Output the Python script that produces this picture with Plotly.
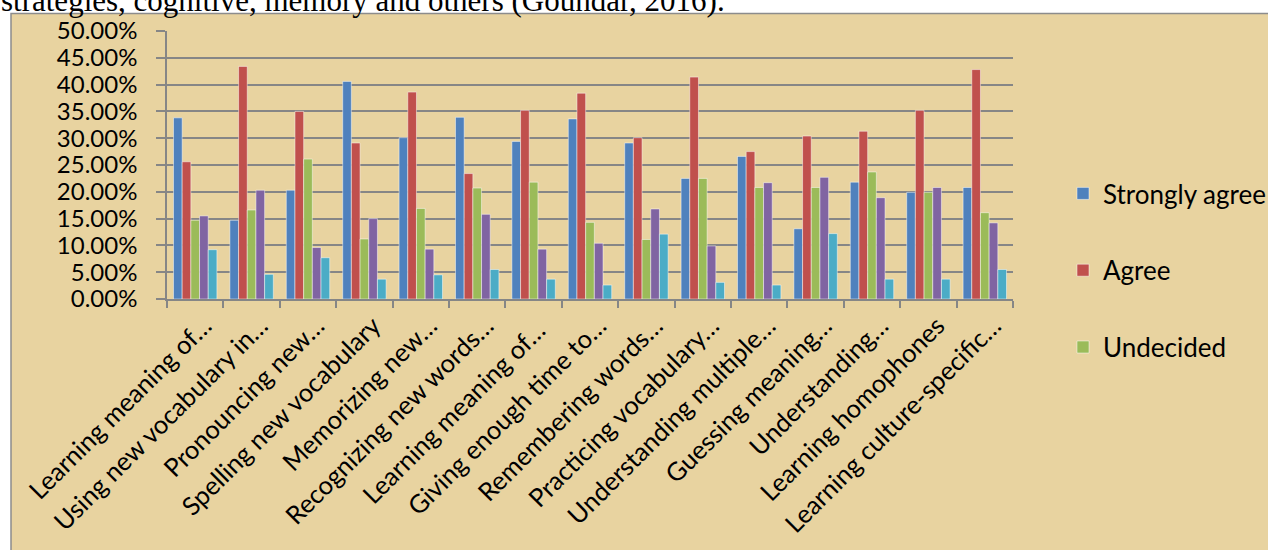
import plotly.graph_objects as go

categories = [
    "Learning meaning of…",
    "Using new vocabulary in…",
    "Pronouncing new…",
    "Spelling new vocabulary",
    "Memorizing new…",
    "Recognizing new words…",
    "Learning meaning of… ",
    "Giving enough time to…",
    "Remembering words…",
    "Practicing vocabulary…",
    "Understanding multiple…",
    "Guessing meaning…",
    "Understanding…",
    "Learning homophones",
    "Learning culture-specific…",
]

strongly_agree = [33.8, 14.7, 20.3, 40.6, 30.1, 33.9, 29.4, 33.6, 29.1, 22.5, 26.6, 13.1, 21.8, 19.9, 20.8]
agree = [25.6, 43.4, 35.0, 29.1, 38.6, 23.4, 35.2, 38.4, 30.1, 41.4, 27.5, 30.4, 31.3, 35.2, 42.8]
undecided = [14.7, 16.6, 26.1, 11.2, 16.9, 20.7, 21.8, 14.3, 11.1, 22.5, 20.8, 20.8, 23.7, 19.9, 16.1]
disagree = [15.5, 20.3, 9.6, 15.0, 9.3, 15.8, 9.3, 10.4, 16.8, 9.9, 21.7, 22.7, 18.9, 20.8, 14.2]
strongly_disagree = [9.2, 4.6, 7.7, 3.7, 4.5, 5.5, 3.7, 2.6, 12.1, 3.1, 2.6, 12.2, 3.7, 3.7, 5.5]

series = [
    ("Strongly agree", strongly_agree, "#4F81BD", True),
    ("Agree", agree, "#C0504D", True),
    ("Undecided", undecided, "#9BBB59", True),
    ("Disagree", disagree, "#8064A2", False),
    ("Strongly disagree", strongly_disagree, "#4BACC6", False),
]

W, H = 1268, 550
L, R, T, B = 167, 1013, 31, 299

def px_x(p):
    return (p - L) / (R - L)

def px_y(p):
    return (B - p) / (B - T)

fig = go.Figure()
for i, (name, vals, color, show) in enumerate(series):
    fig.add_trace(go.Bar(
        x=categories,
        y=[v / 100 for v in vals],
        name=name,
        marker=dict(color=color, line=dict(color="rgba(255,255,255,0.6)", width=0.8)),
        showlegend=show,
        legendgroup=f"g{i}",
    ))

FONT = "Lato"

fig.update_layout(
    width=W, height=H,
    margin=dict(l=L, r=W - R, t=T, b=H - B, autoexpand=False),
    paper_bgcolor="white",
    plot_bgcolor="white",
    barmode="group",
    bargap=0.23,
    bargroupgap=0,
    font=dict(family=FONT, size=24, color="black"),
    legend=dict(
        x=px_x(1063), y=px_y(170), xanchor="left", yanchor="top",
        font=dict(family=FONT, size=26, color="black"),
        bgcolor="rgba(0,0,0,0)",
        traceorder="grouped",
        tracegroupgap=40,
        itemwidth=30,
    ),
    shapes=[
        dict(type="rect", xref="paper", yref="paper",
             x0=px_x(11), x1=px_x(1275), y0=px_y(560), y1=px_y(13.5),
             fillcolor="#E8D3A0", line=dict(color="#8C8C8C", width=1.5),
             layer="below"),
    ],
    annotations=[
        dict(text="strategies, cognitive, memory and others (Goundar, 2016).",
             xref="paper", yref="paper", x=px_x(-1), y=px_y(20),
             xanchor="left", yanchor="bottom", showarrow=False,
             font=dict(family="Liberation Serif", size=31, color="black")),
    ],
)

fig.update_xaxes(
    type="category",
    tickangle=-45,
    tickson="boundaries",
    ticks="outside",
    ticklen=7,
    tickcolor="#868686",
    tickwidth=1.5,
    ticklabelshift=9,
    showline=True, linecolor="#868686", linewidth=1.5,
    showgrid=False,
    tickfont=dict(family=FONT, size=25.5, color="black"),
    automargin=False,
)

fig.update_yaxes(
    range=[0, 0.5],
    dtick=0.05,
    tickformat=".2%",
    ticks="outside",
    ticklen=9,
    tickcolor="#868686",
    tickwidth=1.5,
    ticklabelstandoff=14,
    showline=True, linecolor="#868686", linewidth=1.5,
    showgrid=True, gridcolor="#868686", gridwidth=1.5,
    zeroline=False,
    tickfont=dict(family=FONT, size=24, color="black"),
    automargin=False,
)

fig.write_html("out.html", config={"displayModeBar": False},
               post_script="document.body.style.margin='0';")
